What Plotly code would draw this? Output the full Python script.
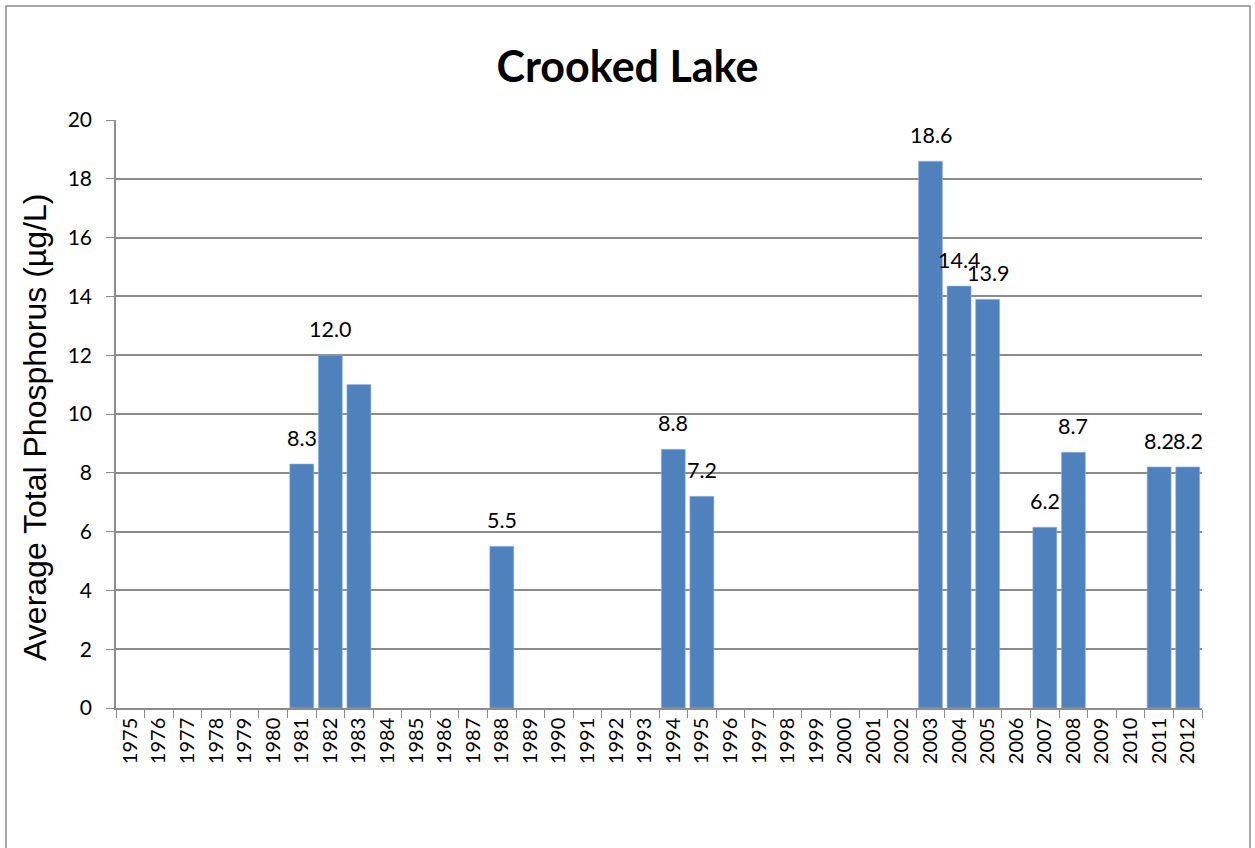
import plotly.graph_objects as go

years = [str(y) for y in range(1975, 2013)]
values = [None, None, None, None, None, None, 8.3, 12.0, 11.0, None, None, None, None, 5.5,
          None, None, None, None, None, 8.8, 7.2, None, None, None, None, None, None, None,
          18.6, 14.35, 13.9, None, 6.15, 8.7, None, None, 8.2, 8.2]
labels = ["", "", "", "", "", "", "8.3", "12.0", "", "", "", "", "", "5.5",
          "", "", "", "", "", "8.8", "7.2", "", "", "", "", "", "", "",
          "18.6", "14.4", "13.9", "", "6.2", "8.7", "", "", "8.2", "8.2"]

font_main = "Lato, Carlito, 'Liberation Sans', sans-serif"

fig = go.Figure()
fig.add_trace(go.Bar(x=years, y=values, marker=dict(color="#4F81BD", line=dict(color="#9DB9DC", width=0.6)),
                     width=0.84, hoverinfo="x+y"))

for i, (v, lab) in enumerate(zip(values, labels)):
    if v is not None and lab:
        fig.add_annotation(x=i, y=v, text=lab, showarrow=False, yshift=26,
                           font=dict(family=font_main, size=21.5, color="black"))

# y-axis title as annotation
fig.add_annotation(xref="paper", yref="paper", x=-0.0746, y=0.478, text="Average Total Phosphorus (µg/L)",
                   textangle=-90, showarrow=False, xanchor="center", yanchor="middle",
                   font=dict(family="'Liberation Sans', Arial, sans-serif", size=32, color="black"))

# outer border
fig.add_shape(type="rect", xref="paper", yref="paper", x0=-0.1013, x1=1.0442, y0=-0.4, y1=1.1939,
              line=dict(color="#8C8C8C", width=1.5), fillcolor="rgba(0,0,0,0)", layer="below")

fig.update_layout(
    width=1255, height=848,
    margin=dict(l=116, r=53, t=120, b=140),
    paper_bgcolor="white", plot_bgcolor="white",
    showlegend=False,
    title=dict(text="<b>Crooked Lake</b>", x=0.5, xanchor="center", y=0.921, yanchor="middle",
               font=dict(family=font_main, size=43, color="black")),
    xaxis=dict(type="category", categoryorder="array", categoryarray=years, range=[-0.5, len(years) - 0.5],
               tickson="boundaries", ticks="outside", ticklen=8, tickcolor="#8C8C8C",
               tickangle=-90, showline=True, linecolor="#8C8C8C", linewidth=1.5,
               tickfont=dict(family=font_main, size=20, color="black"), showgrid=False),
    yaxis=dict(range=[0, 20], dtick=2, ticks="outside", ticklen=8, tickcolor="#8C8C8C",
               showline=True, linecolor="#8C8C8C", linewidth=1.5, showgrid=True, gridcolor="#8C8C8C",
               gridwidth=1.5, zeroline=False, ticklabelstandoff=10,
               tickfont=dict(family=font_main, size=21, color="black")),
)

fig.write_html("out.html", post_script="document.body.style.margin='0';",
               config={"displayModeBar": False})
